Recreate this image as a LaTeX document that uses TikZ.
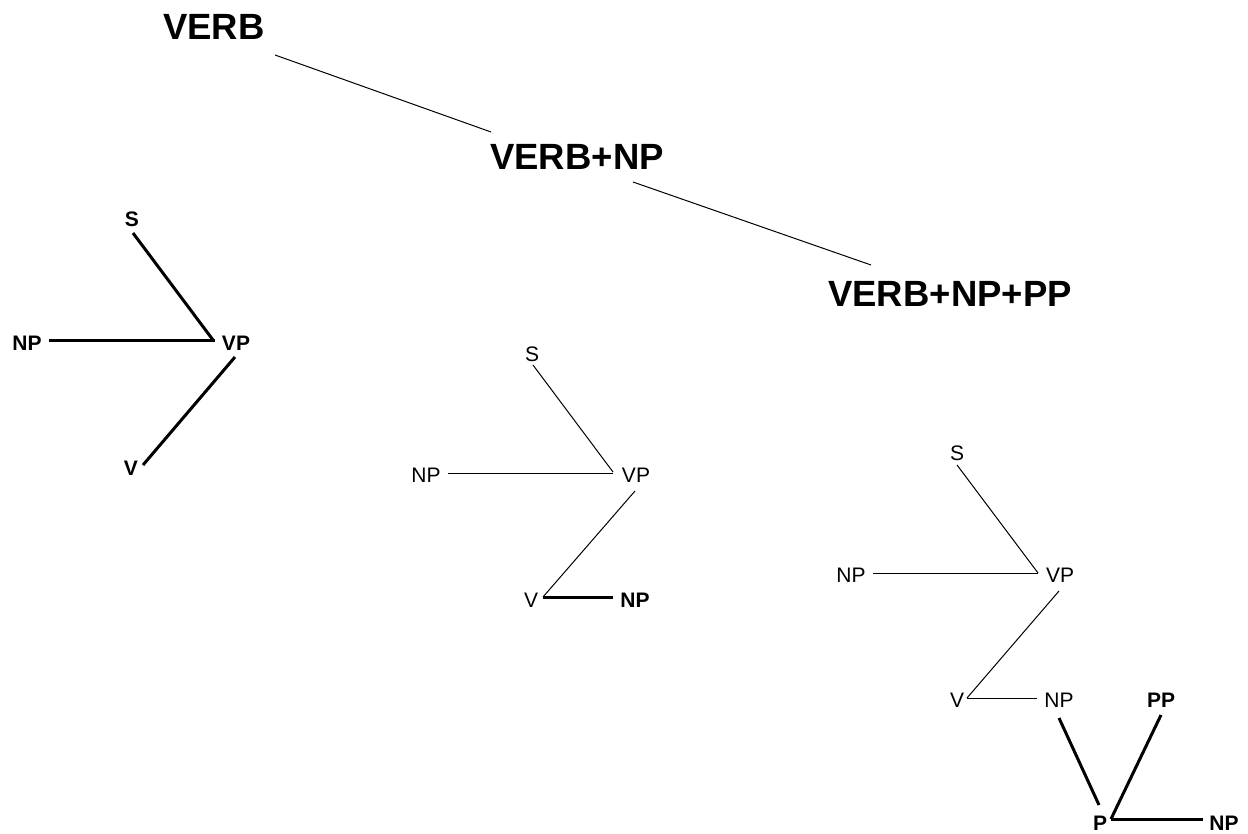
\documentclass[tikz,border=0pt]{standalone}
\usepackage{fontspec}
\setmainfont{Liberation Sans}
\begin{document}
\begin{tikzpicture}[x=1pt,y=-1pt,
  title/.style={inner sep=0pt,font=\fontsize{36.5}{36.5}\selectfont\bfseries},
  lab/.style={inner sep=0pt,font=\fontsize{21}{21}\selectfont},
  blab/.style={inner sep=0pt,font=\fontsize{21}{21}\selectfont\bfseries},
  thin edge/.style={line width=1pt},
  thick edge/.style={line width=3pt}]
\useasboundingbox (0,0) rectangle (1248,834);
% titles
\node[title] (t1) at (214,27) {VERB};
\node[title] (t2) at (577,157) {VERB+NP};
\node[title] (t3) at (950,294) {VERB+NP+PP};
\draw[thin edge] ([shift={(61,28)}]t1.center) -- ([shift={(-86,-25)}]t2.center);
\draw[thin edge] ([shift={(56,25)}]t2.center) -- ([shift={(-79,-29)}]t3.center);
% tree 1
\node[blab] (aS) at (132,219) {S};
\node[blab] (aNP) at (27,343) {NP};
\node[blab] (aVP) at (236,343) {VP};
\node[blab] (aV) at (131,468) {V};
\draw[thick edge] ([shift={(1,14)}]aS.center) -- ([shift={(-23,-3)}]aVP.center);
\draw[thick edge] ([shift={(22,-2)}]aNP.center) -- ([shift={(-21,-2)}]aVP.center);
\draw[thick edge] ([shift={(-1,14)}]aVP.center) -- ([shift={(12,-3)}]aV.center);
% tree 2
\node[lab] (bS) at (532,354) {S};
\node[lab] (bNP) at (426,475) {NP};
\node[lab] (bVP) at (636,475) {VP};
\node[lab] (bV) at (531,600) {V};
\node[blab] (bNPb) at (635,600) {NP};
\draw[thin edge] ([shift={(1,11)}]bS.center) -- ([shift={(-23,-3)}]bVP.center);
\draw[thin edge] ([shift={(22,-2)}]bNP.center) -- ([shift={(-23,-2)}]bVP.center);
\draw[thin edge] ([shift={(-1,16)}]bVP.center) -- ([shift={(12,-3)}]bV.center);
\draw[thick edge] ([shift={(12,-3)}]bV.center) -- ([shift={(-22,-3)}]bNPb.center);
% tree 3
\node[lab] (cS) at (957,453) {S};
\node[lab] (cNP) at (851,575) {NP};
\node[lab] (cVP) at (1060,575) {VP};
\node[lab] (cV) at (957,700) {V};
\node[lab] (cNPb) at (1059,700) {NP};
\node[blab] (cPP) at (1161,700) {PP};
\node[blab] (cP) at (1100,823) {P};
\node[blab] (cNPc) at (1224,823) {NP};
\draw[thin edge] ([shift={(0,12)}]cS.center) -- ([shift={(-22,-2)}]cVP.center);
\draw[thin edge] ([shift={(22,-2)}]cNP.center) -- ([shift={(-22,-2)}]cVP.center);
\draw[thin edge] ([shift={(-1,16)}]cVP.center) -- ([shift={(10,-2)}]cV.center);
\draw[thin edge] ([shift={(10,-2)}]cV.center) -- ([shift={(-22,-2)}]cNPb.center);
\draw[thick edge] ([shift={(0,18)}]cNPb.center) -- ([shift={(-1,-18)}]cP.center);
\draw[thick edge] ([shift={(0,15)}]cPP.center) -- ([shift={(11,-4)}]cP.center);
\draw[thick edge] ([shift={(11,-4)}]cP.center) -- ([shift={(-21,-4)}]cNPc.center);
\end{tikzpicture}
\end{document}
